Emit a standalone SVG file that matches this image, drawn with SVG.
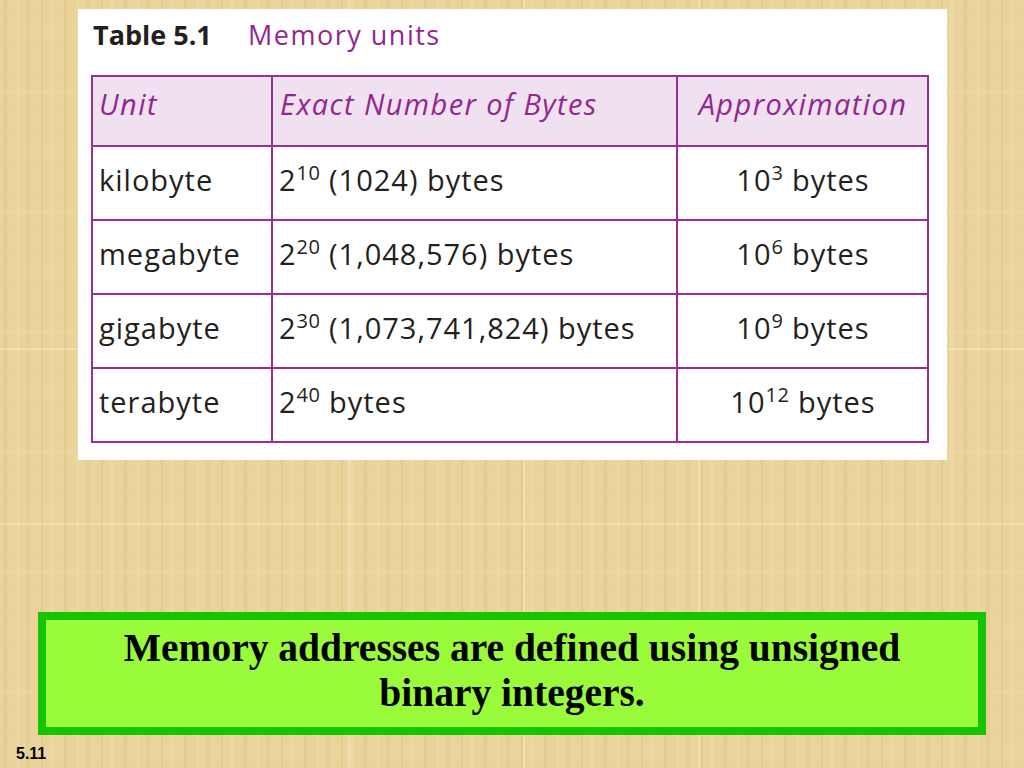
<svg xmlns="http://www.w3.org/2000/svg" width="1024" height="768" viewBox="0 0 1024 768">
<defs>
<pattern id="papyrus" x="0" y="0" width="60" height="60" patternUnits="userSpaceOnUse">
<rect width="60" height="60" fill="#ead49c"/>
<rect x="4" y="0" width="3" height="60" fill="#d8bb78" opacity="0.3"/>
<rect x="17" y="0" width="2" height="60" fill="#f5e4b4" opacity="0.4"/>
<rect x="26" y="0" width="4" height="60" fill="#dcc083" opacity="0.25"/>
<rect x="41" y="0" width="2" height="60" fill="#d4b673" opacity="0.3"/>
<rect x="50" y="0" width="3" height="60" fill="#f3e0ac" opacity="0.4"/>
<rect x="0" y="12" width="60" height="1" fill="#d6b975" opacity="0.15"/>
<rect x="0" y="31" width="60" height="2" fill="#f4e2b0" opacity="0.2"/>
<rect x="0" y="47" width="60" height="1" fill="#d6b975" opacity="0.15"/>
</pattern>
<style>
.cell { font-family: "Open Sans", "Noto Sans", "Liberation Sans", sans-serif; font-size: 29px; letter-spacing: 1px; fill: #231f20; }
.hdr { font-family: "Open Sans", "Noto Sans", "Liberation Sans", sans-serif; font-size: 29px; letter-spacing: 1.4px; font-style: italic; fill: #93278f; }
.sup { font-size: 20px; letter-spacing: 0.5px; }
.grid { stroke: #9b2d9b; stroke-width: 2; fill: none; }
.seam { stroke: #fbf2cf; stroke-width: 1; opacity: 0.8; }
</style>
</defs>

<g id="background">
<rect width="1024" height="768" fill="url(#papyrus)"/>
<line class="seam" x1="349" y1="0" x2="349" y2="768"/>
<line class="seam" x1="524" y1="0" x2="524" y2="768"/>
<line class="seam" x1="699" y1="0" x2="699" y2="768"/>
<line class="seam" x1="0" y1="349" x2="1024" y2="349"/>
<line class="seam" x1="0" y1="524" x2="1024" y2="524"/>
</g>

<g id="table-panel">
<rect x="78" y="9" width="869" height="451" fill="#ffffff"/>
<text x="93" y="45" font-family="Open Sans, Noto Sans, Liberation Sans, sans-serif" font-size="27" font-weight="bold" fill="#231f20">Table 5.1</text>
<text x="248" y="45" font-family="Open Sans, Noto Sans, Liberation Sans, sans-serif" font-size="27" letter-spacing="1.5" fill="#93278f">Memory units</text>
<rect x="92" y="76" width="836" height="70" fill="#f0e1f0"/>
<g class="grid">
<rect x="92" y="76" width="836" height="366"/>
<line x1="92" y1="146" x2="928" y2="146"/>
<line x1="92" y1="220" x2="928" y2="220"/>
<line x1="92" y1="294" x2="928" y2="294"/>
<line x1="92" y1="368" x2="928" y2="368"/>
<line x1="272" y1="76" x2="272" y2="442"/>
<line x1="677" y1="76" x2="677" y2="442"/>
</g>
<text class="hdr" x="99" y="115">Unit</text>
<text class="hdr" x="280" y="115">Exact Number of Bytes</text>
<text class="hdr" x="803" y="115" text-anchor="middle">Approximation</text>

<text class="cell" x="99" y="191">kilobyte</text>
<text class="cell" x="279" y="191">2<tspan class="sup" dy="-11">10</tspan><tspan dy="11"> (1024) bytes</tspan></text>
<text class="cell" x="803" y="191" text-anchor="middle">10<tspan class="sup" dy="-11">3</tspan><tspan dy="11"> bytes</tspan></text>

<text class="cell" x="99" y="265">megabyte</text>
<text class="cell" x="279" y="265">2<tspan class="sup" dy="-11">20</tspan><tspan dy="11"> (1,048,576) bytes</tspan></text>
<text class="cell" x="803" y="265" text-anchor="middle">10<tspan class="sup" dy="-11">6</tspan><tspan dy="11"> bytes</tspan></text>

<text class="cell" x="99" y="339">gigabyte</text>
<text class="cell" x="279" y="339">2<tspan class="sup" dy="-11">30</tspan><tspan dy="11"> (1,073,741,824) bytes</tspan></text>
<text class="cell" x="803" y="339" text-anchor="middle">10<tspan class="sup" dy="-11">9</tspan><tspan dy="11"> bytes</tspan></text>

<text class="cell" x="99" y="413">terabyte</text>
<text class="cell" x="279" y="413">2<tspan class="sup" dy="-11">40</tspan><tspan dy="11"> bytes</tspan></text>
<text class="cell" x="803" y="413" text-anchor="middle">10<tspan class="sup" dy="-11">12</tspan><tspan dy="11"> bytes</tspan></text>
</g>

<g id="note-box">
<rect x="42" y="616" width="940" height="115" fill="#99fb3a" stroke="#16c400" stroke-width="8"/>
<text x="512" y="661" text-anchor="middle" font-family="Liberation Serif, Times New Roman, serif" font-size="39.5" font-weight="bold" fill="#000000">Memory addresses are defined using unsigned</text>
<text x="512" y="706" text-anchor="middle" font-family="Liberation Serif, Times New Roman, serif" font-size="39.5" font-weight="bold" fill="#000000">binary integers.</text>
</g>

<g id="page-number">
<text x="16" y="759" font-family="Liberation Sans, Arial, sans-serif" font-size="16" font-weight="bold" fill="#000000">5.11</text>
</g>
</svg>
